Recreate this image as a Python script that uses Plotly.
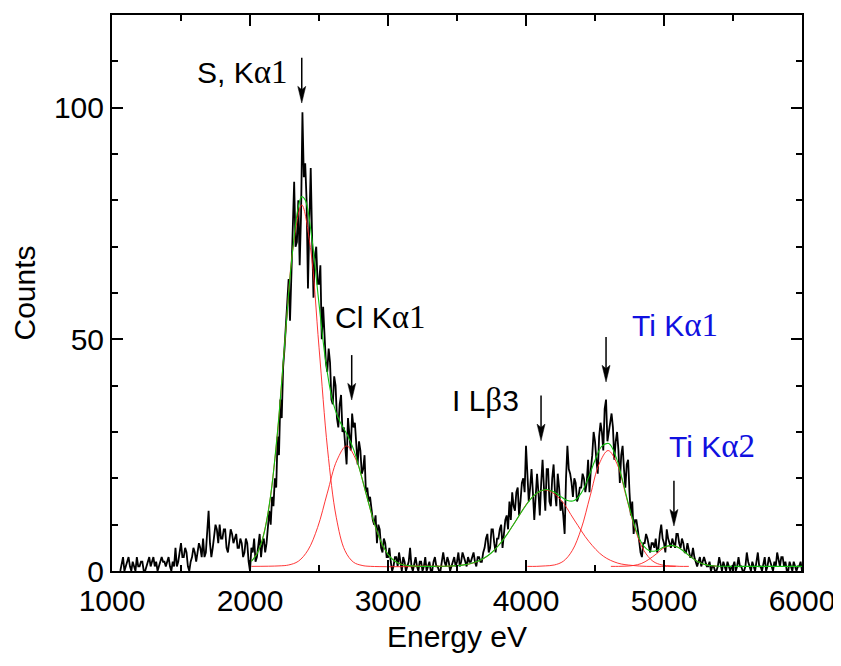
import plotly.graph_objects as go

# ---------------- data ----------------
energy_start, energy_step = 1060, 10
counts = [
    0, 2, 3, 0, 1, 2, 3, 1, 0, 2,        # 1060-1150
    1, 0, 3, 1, 1, 2, 2, 0, 0, 1,        # 1160
    2, 3, 1, 2, 3, 1, 2, 0, 1, 2,        # 1260
    3, 2, 2, 1, 2, 3, 1, 0, 2, 1,        # 1360
    5, 1, 2, 4, 6, 3, 3, 5, 4, 1,        # 1460
    0, 2, 3, 5, 4, 2, 4, 6, 5, 3,        # 1560
    7, 3, 4, 9, 13, 6, 3, 5, 8, 10,      # 1660
    9, 6, 10, 7, 7, 9, 9, 5, 4, 7,       # 1760
    9, 8, 6, 7, 8, 5, 5, 7, 6, 3,        # 1860
    4, 7, 6, 2, 0, 5, 4, 7, 2, 3,        # 1960
    5, 8, 3, 6, 7, 4, 6, 9, 13, 10,      # 2060
    16, 14, 20, 18, 29, 25, 37, 33, 44, 48,   # 2160
    52, 58, 63, 54, 64, 75, 84, 70, 71, 80,   # 2260
    66, 77, 99, 85, 88, 80, 61, 75, 87, 72,   # 2360
    59, 68, 70, 62, 62, 66, 50, 57, 52, 45,   # 2460
    43, 48, 45, 37, 36, 42, 40, 33, 31, 36,   # 2560
    38, 30, 31, 27, 23, 33, 30, 26, 34, 31,   # 2660
    32, 26, 23, 28, 26, 21, 22, 25, 17, 18,   # 2760
    15, 16, 13, 11, 10, 12, 6, 10, 9, 5,      # 2860
    4, 7, 6, 3, 3, 5, 2, 0, 1, 3,             # 2960
    3, 1, 4, 2, 0, 3, 2, 0, 1, 2,             # 3060
    5, 1, 0, 2, 3, 1, 0, 2, 2, 0,             # 3160
    1, 3, 0, 1, 2, 0, 0, 2, 3, 1,             # 3260
    1, 0, 0, 2, 4, 2, 1, 3, 2, 0,             # 3360
    1, 2, 3, 1, 2, 4, 1, 2, 4, 3,             # 3460
    2, 1, 3, 2, 2, 3, 4, 2, 1, 3,             # 3560
    3, 2, 2, 4, 5, 7, 8, 4, 5, 9,             # 3660
    9, 6, 4, 7, 7, 9, 10, 5, 8, 11,           # 3760
    12, 9, 15, 11, 17, 14, 13, 17, 18, 12,    # 3860
    15, 19, 20, 17, 27, 19, 15, 18, 22, 17,   # 3960
    11, 16, 21, 17, 12, 19, 24, 18, 13, 22,   # 4060
    22, 15, 14, 20, 23, 17, 14, 21, 18, 13,   # 4160
    15, 12, 8, 20, 27, 22, 21, 19, 16, 20,    # 4260
    19, 15, 16, 18, 18, 21, 20, 17, 19, 24,   # 4360
    17, 22, 25, 30, 28, 24, 21, 29, 32, 30,   # 4460
    26, 35, 37, 28, 30, 33, 34, 31, 24, 28,   # 4560
    30, 26, 19, 25, 27, 22, 18, 23, 24, 17,   # 4660
    12, 15, 8, 11, 11, 9, 6, 4, 3, 6,         # 4760
    6, 8, 7, 5, 4, 6, 6, 5, 7, 4,             # 4860
    5, 8, 10, 7, 6, 4, 9, 7, 6, 5,            # 4960
    7, 6, 5, 8, 8, 6, 5, 7, 6, 4,             # 5060
    4, 6, 4, 3, 3, 5, 3, 2, 1, 2,             # 5160
    3, 1, 2, 3, 2, 1, 1, 2, 0, 1,             # 5260
    1, 0, 0, 1, 3, 1, 0, 2, 1, 0,             # 5360
    2, 1, 0, 1, 1, 2, 0, 1, 3, 1,             # 5460
    1, 0, 0, 1, 4, 2, 1, 0, 2, 1,             # 5560
    0, 2, 4, 1, 1, 0, 2, 3, 0, 1,             # 5660
    3, 2, 1, 0, 2, 1, 4, 2, 1, 3,             # 5760
    3, 1, 2, 0, 0, 2, 1, 0, 2, 1,             # 5860
    0, 1, 1, 2, 0,                            # 5960-6000
]
energy = [energy_start + energy_step * i for i in range(len(counts))]

# fitted peak components (red)
s_ka1_x = [2010, 2062, 2125, 2188, 2250, 2312, 2375, 2438, 2500, 2562, 2625, 2688, 2750, 2812, 2875, 3400]
s_ka1_y = [2.1, 4.4, 11.6, 26.3, 48.3, 69.8, 79.0, 69.8, 48.3, 26.3, 11.6, 4.4, 1.9, 1.2, 1.0, 1.0]

cl_ka1_x = [2010, 2210, 2280, 2350, 2420, 2490, 2560, 2630, 2700, 2770, 2840, 2910, 2980, 3050, 3120, 3190, 3400]
cl_ka1_y = [1.0, 1.1, 1.3, 2.1, 4.5, 9.4, 16.8, 23.9, 27.0, 23.9, 16.8, 9.4, 4.5, 2.1, 1.3, 1.1, 1.0]

i_lb3_x = [3195, 3300, 3405, 3510, 3615, 3720, 3825, 3930, 4035, 4140, 4245, 4350, 4455, 4560, 4665, 4770, 4875, 4980, 5085]
i_lb3_y = [1.0, 1.0, 1.0, 1.2, 1.7, 3.2, 6.4, 11.0, 15.6, 17.5, 15.6, 11.0, 6.4, 3.2, 1.7, 1.2, 1.0, 1.0, 1.0]

ti_ka1_x = [4010, 4075, 4140, 4205, 4270, 4335, 4400, 4465, 4530, 4595, 4660, 4725, 4790, 4855, 4920, 4985, 5050, 5115, 5180]
ti_ka1_y = [1.0, 1.0, 1.1, 1.3, 2.1, 4.4, 9.1, 16.2, 23.1, 26.0, 23.1, 16.2, 9.1, 4.4, 2.1, 1.3, 1.1, 1.0, 1.0]

ti_ka2_x = [4615, 4670, 4725, 4780, 4835, 4890, 4945, 5000, 5055, 5110, 5165, 5220, 5275, 5330, 5385]
ti_ka2_y = [1.0, 1.0, 1.05, 1.2, 1.6, 2.5, 3.7, 5.0, 5.5, 5.0, 3.7, 2.5, 1.6, 1.2, 1.05]

# cumulative fit (green)
fit_x = [2010, 2050, 2100, 2150, 2200, 2250, 2300, 2350, 2375, 2400, 2450, 2500, 2550, 2600, 2650,
         2700, 2750, 2800, 2850, 2900, 2950, 3000, 3050, 3100, 3150, 3200, 3250, 3300, 3350, 3400,
         3450, 3500, 3550, 3600, 3650, 3700, 3750, 3800, 3850, 3900, 3950, 4000, 4050, 4100, 4150,
         4200, 4250, 4300, 4350, 4400, 4450, 4500, 4550, 4600, 4650, 4700, 4750, 4800, 4850, 4900,
         4950, 5000, 5050, 5100, 5150, 5200, 5250, 5300, 5350, 5400, 5450, 5500, 6000]
fit_y = [2.1, 3.65, 7.9, 16.4, 30.3, 48.5, 66.5, 78.6, 80.8, 80.1, 71.4, 57.7, 44.9, 36.5, 32.3,
         29.65, 26.3, 21.3, 15.7, 10.4, 6.3, 3.6, 2.1, 1.4, 1.15, 1.04, 1.0, 1.0, 1.01, 1.03,
         1.07, 1.16, 1.32, 1.61, 2.08, 2.84, 3.94, 5.45, 7.36, 9.59, 11.96, 14.2, 16.05, 17.2, 17.6,
         17.1, 16.1, 15.2, 15.2, 16.8, 19.95, 23.9, 26.95, 27.5, 24.8, 19.5, 13.6, 8.6, 5.5, 4.3,
         4.45, 5.17, 5.54, 5.15, 4.1, 2.89, 1.94, 1.38, 1.12, 1.03, 1.01, 1.0, 1.0]

# peak labels and arrows
SERIF = "font-family:Liberation Serif;font-size:33px"
label_texts = [
    f"S, K<span style='{SERIF}'>α1</span>",
    f"Cl K<span style='{SERIF}'>α1</span>",
    f"I L<span style='{SERIF}'>β</span>3",
    f"Ti K<span style='{SERIF}'>α1</span>",
    f"Ti K<span style='{SERIF}'>α2</span>",
]
label_x = [2290, 2601, 3449, 4754, 5022]
label_y = [107.6, 54.8, 37.0, 53.0, 27.0]
label_anchor = ["right", "left", "left", "left", "left"]
label_color = ["black", "black", "black", "#1010e0", "#1010e0"]

arrow_x = [2375, 2737, 4109, 4580, 5072]
arrow_tip_y = [101.0, 36.9, 28.1, 40.8, 9.7]
arrow_tail_y = [110.8, 46.6, 37.9, 50.5, 19.5]
head_len = 3.6        # counts (≈17 px)
head_half_w = 29      # eV (≈4 px)

x_ticks = [1000, 2000, 3000, 4000, 5000, 6000]
y_ticks = [0, 50, 100]

# ---------------- figure ----------------
FONT = "Liberation Sans"
fig = go.Figure()
fig.add_trace(go.Scatter(x=energy, y=counts, mode="lines",
                         line=dict(color="black", width=1.8), showlegend=False))
for xs, ys in [(s_ka1_x, s_ka1_y), (cl_ka1_x, cl_ka1_y), (i_lb3_x, i_lb3_y),
               (ti_ka1_x, ti_ka1_y), (ti_ka2_x, ti_ka2_y)]:
    fig.add_trace(go.Scatter(x=xs, y=ys, mode="lines",
                             line=dict(color="#ff2020", width=0.9, shape="spline"),
                             showlegend=False))
fig.add_trace(go.Scatter(x=fit_x, y=fit_y, mode="lines",
                         line=dict(color="#10c010", width=1.1, shape="spline"),
                         showlegend=False))

for t, x, y, a, c in zip(label_texts, label_x, label_y, label_anchor, label_color):
    fig.add_annotation(x=x, y=y, xref="x", yref="y", text=t, showarrow=False,
                       xanchor=a, yanchor="middle",
                       font=dict(family=FONT, size=30, color=c))

# arrows: shaft + narrow filled head
for x, yt, ya in zip(arrow_x, arrow_tip_y, arrow_tail_y):
    fig.add_shape(type="line", xref="x", yref="y", x0=x, x1=x, y0=ya, y1=yt + head_len * 0.6,
                  line=dict(color="black", width=1.5))
    fig.add_shape(type="path", xref="x", yref="y",
                  path=(f"M {x - head_half_w},{yt + head_len} L {x},{yt} "
                        f"L {x + head_half_w},{yt + head_len} L {x},{yt + head_len * 0.8} Z"),
                  fillcolor="black", line=dict(color="black", width=0.5))

axis_common = dict(showline=True, linewidth=2, linecolor="black", mirror="allticks",
                   ticks="inside", ticklen=11, tickwidth=2, tickcolor="black",
                   showgrid=False, zeroline=False, automargin=False,
                   tickfont=dict(family=FONT, size=30, color="black"))
fig.update_xaxes(range=[1000, 6000], tickvals=x_ticks, ticklabelstandoff=2,
                 minor=dict(dtick=500, ticklen=6, tickwidth=2, ticks="inside", tickcolor="black"),
                 title=dict(text="Energy eV", font=dict(family=FONT, size=30, color="black"), standoff=10),
                 **axis_common)
fig.update_yaxes(range=[0, 120], tickvals=y_ticks,
                 minor=dict(dtick=10, ticklen=6, tickwidth=2, ticks="inside", tickcolor="black"),
                 title=dict(text="Counts", font=dict(family=FONT, size=30, color="black"), standoff=10),
                 **axis_common)
# the page body adds an 8 px offset, so the figure is 8 px smaller with matching margins
fig.update_layout(width=833, height=658, paper_bgcolor="white", plot_bgcolor="white",
                  margin=dict(l=104, r=39, t=7, b=95), showlegend=False)

fig.write_html("out.html")
